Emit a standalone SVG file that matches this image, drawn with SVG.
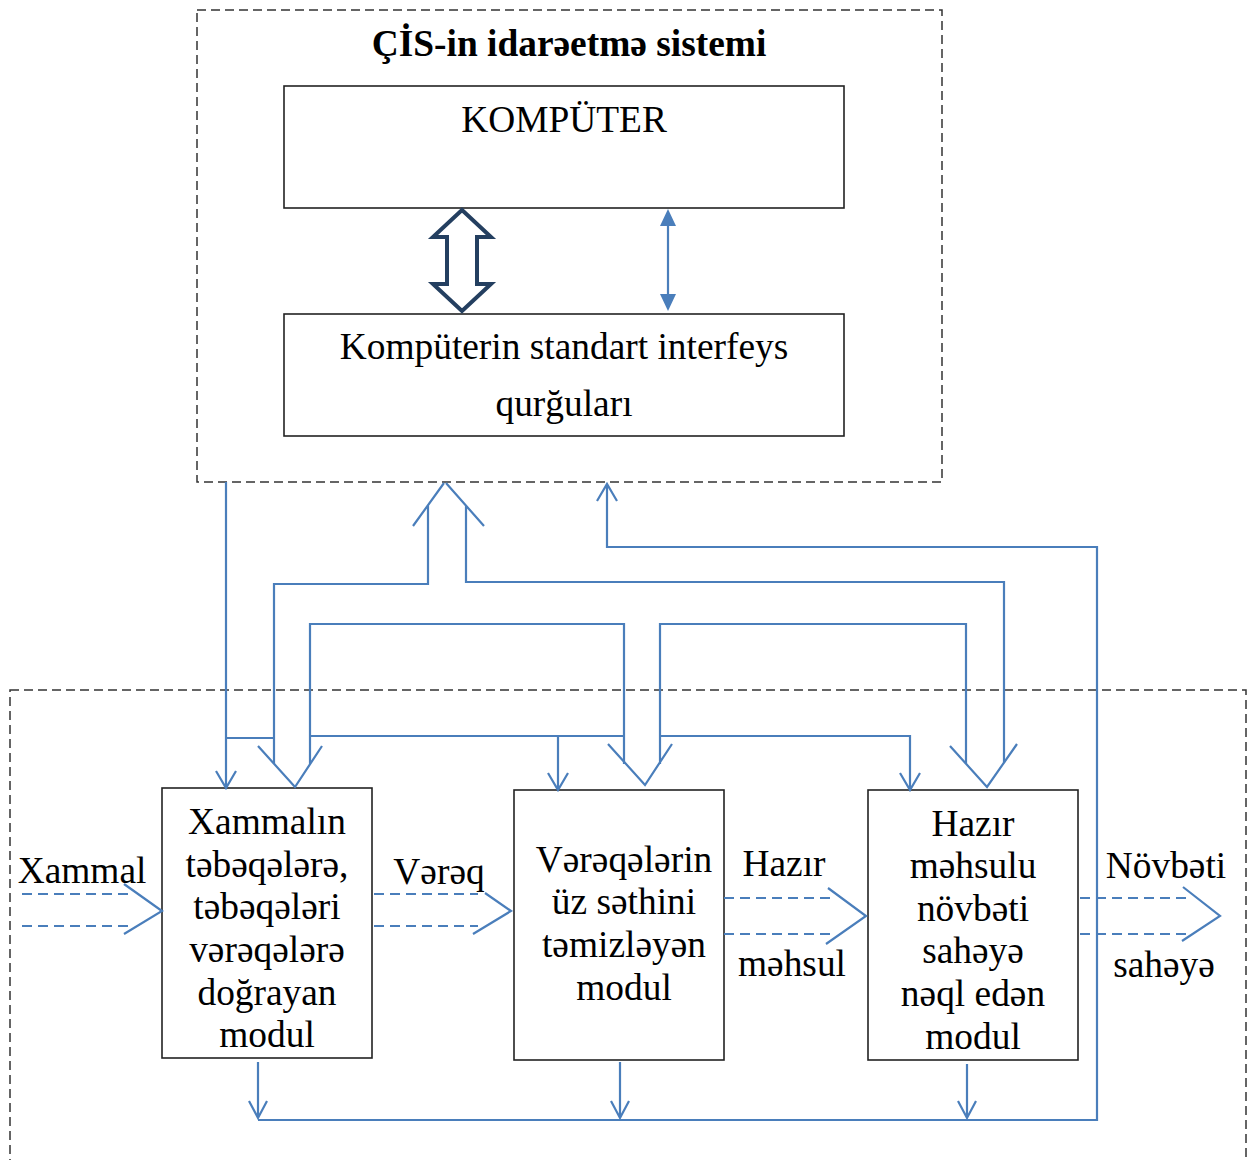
<svg xmlns="http://www.w3.org/2000/svg" width="1248" height="1160" viewBox="0 0 1248 1160">
<style>
.dash{fill:none;stroke:#333;stroke-width:1.5;stroke-dasharray:9,5}
.box{fill:#fff;stroke:#222;stroke-width:1.6}
.t{font-family:"Liberation Serif","DejaVu Serif",serif;font-size:37.4px;fill:#000;text-anchor:middle}
.b{font-weight:bold}
.c{fill:none;stroke:#4A7EBB;stroke-width:2.2}
.d{fill:none;stroke:#4A7EBB;stroke-width:2;stroke-dasharray:10,6}
</style>
<rect width="1248" height="1160" fill="#fff"/>
<g id="control-system">
<rect class="dash" x="197" y="10" width="745" height="472"/>
<text class="t b" x="569" y="56">ÇİS-in idarəetmə sistemi</text>
</g>
<g id="production-area">
<rect class="dash" x="10" y="690" width="1236" height="480"/>
</g>
<g id="computer">
<rect class="box" x="284" y="86" width="560" height="122" stroke="#444"/>
<text class="t" x="564" y="132">KOMPÜTER</text>
</g>
<g id="interface">
<rect class="box" x="284" y="314" width="560" height="122" stroke="#444"/>
<text class="t" x="564" y="359">Kompüterin standart interfeys</text>
<text class="t" x="564" y="416">qurğuları</text>
</g>
<g id="module1">
<rect class="box" x="162" y="788" width="210" height="270"/>
<text class="t" x="267" y="834">Xammalın</text>
<text class="t" x="267" y="877">təbəqələrə,</text>
<text class="t" x="267" y="919">təbəqələri</text>
<text class="t" x="267" y="962">vərəqələrə</text>
<text class="t" x="267" y="1005">doğrayan</text>
<text class="t" x="267" y="1047">modul</text>
</g>
<g id="module2">
<rect class="box" x="514" y="790" width="210" height="270"/>
<text class="t" x="624" y="872">Vərəqələrin</text>
<text class="t" x="624" y="914">üz səthini</text>
<text class="t" x="624" y="957">təmizləyən</text>
<text class="t" x="624" y="1000">modul</text>
</g>
<g id="module3">
<rect class="box" x="868" y="790" width="210" height="270"/>
<text class="t" x="973" y="836">Hazır</text>
<text class="t" x="973" y="878">məhsulu</text>
<text class="t" x="973" y="921">növbəti</text>
<text class="t" x="973" y="963">sahəyə</text>
<text class="t" x="973" y="1006">nəql edən</text>
<text class="t" x="973" y="1049">modul</text>
</g>
<g id="labels">
<text class="t" x="82" y="883">Xammal</text>
<text class="t" x="439" y="884">Vərəq</text>
<text class="t" x="784" y="876">Hazır</text>
<text class="t" x="792" y="976">məhsul</text>
<text class="t" x="1166" y="878">Növbəti</text>
<text class="t" x="1164" y="977">sahəyə</text>
</g>
<g id="connectors">
<path d="M462,210 L491,237 L477,237 L477,284 L491,284 L462,311 L433,284 L447,284 L447,237 L433,237 Z" fill="#fff" stroke="#243F60" stroke-width="4" stroke-linejoin="miter"/>
<line x1="668" y1="222" x2="668" y2="298" stroke="#4A7EBB" stroke-width="2.2"/>
<path d="M668,209 L676,226 L660,226 Z M668,311 L676,294 L660,294 Z" fill="#4A7EBB"/>
<path class="c" d="M226,482 V788 M216,771 L226,788 L236,771 M226,738 H274"/>
<path class="c" d="M274,764 V584 H428 V505 M413,526 L444,483 M446,483 L484,526 M466,506 V582 H1004 V763"/>
<path class="c" d="M258,746 L295,787 L322,746 M310,764 V624 H624 V764 M310,736 H624 M558,736 V790 M548,773 L558,790 L568,773"/>
<path class="c" d="M608,744 L645,785 L672,744 M660,764 V624 H966 V764 M660,736 H910 V790 M900,773 L910,790 L920,773"/>
<path class="c" d="M950,746 L987,787 L1017,744"/>
<path class="c" d="M607,484 V547 H1097 V1120 H258 M597,501 L607,484 L617,501"/>
<path class="c" d="M258,1062 V1118 M249,1101 L258,1118 L267,1101 M620,1062 V1118 M611,1101 L620,1118 L629,1101 M967,1064 V1118 M958,1101 L967,1118 L976,1101"/>
<path class="d" d="M22,894 H130 M22,926 H130 M374,894 H478 M374,926 H478 M724,898 H830 M724,934 H830 M1080,898 H1188 M1080,934 H1188"/>
<path class="c" d="M124,884 L162,911 L124,934 M485,893 L511,911 L473,934 M828,888 L866,916 L826,944 M1183,887 L1220,916 L1182,941"/>
</g>
</svg>
